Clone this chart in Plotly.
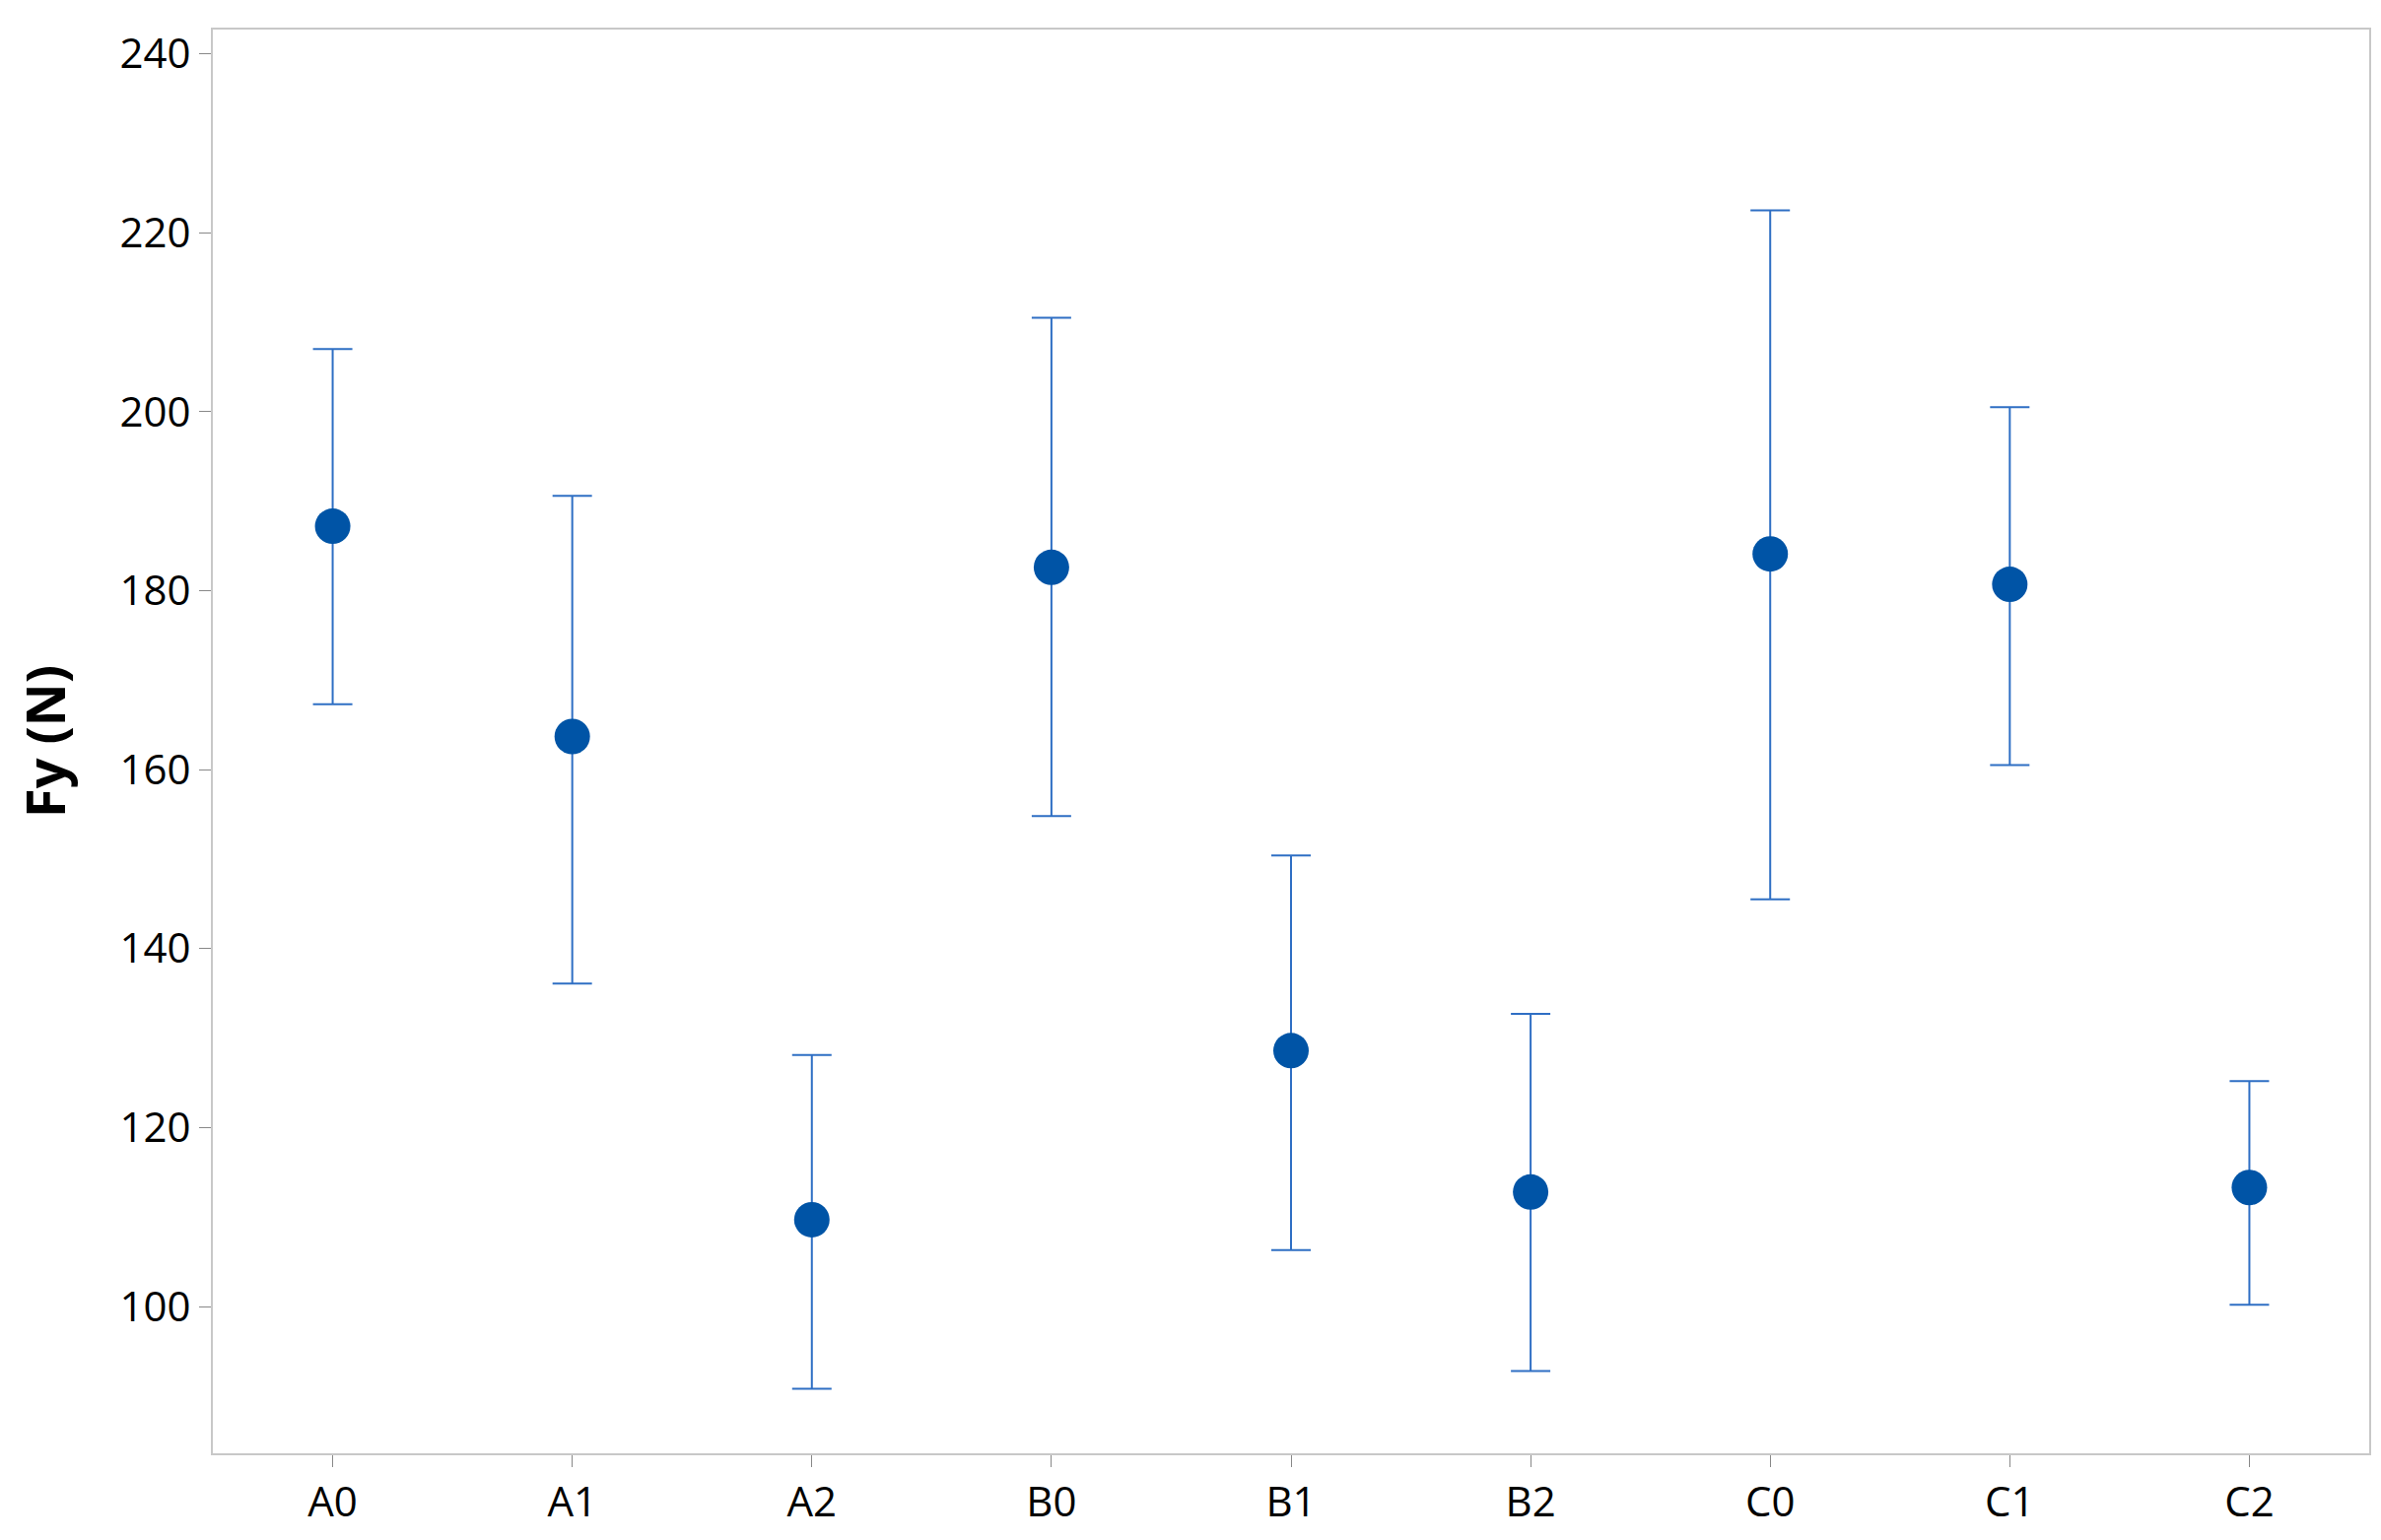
import plotly.graph_objects as go

categories = ["A0","A1","A2","B0","B1","B2","C0","C1","C2"]
means = [187.2,163.7,109.7,182.6,128.6,112.8,184.1,180.7,113.3]
upper = [207.0,190.6,128.1,210.5,150.4,132.7,222.5,200.5,125.2]
lower = [167.3,136.1,90.8,154.8,106.3,92.8,145.5,160.5,100.2]

err_plus = [u-m for u,m in zip(upper,means)]
err_minus = [m-l for m,l in zip(means,lower)]

fig = go.Figure(go.Scatter(
    x=categories, y=means, mode="markers",
    marker=dict(size=36, color="#0054A6"),
    error_y=dict(type="data", symmetric=False, array=err_plus, arrayminus=err_minus,
                 color="#2F6FC4", thickness=2, width=20),
))
fig.update_layout(
    width=2416, height=1563, plot_bgcolor="white", paper_bgcolor="white",
    margin=dict(l=208, r=20, t=22, b=96),
    font=dict(family="Open Sans", size=40, color="black"),
    showlegend=False,
)
fig.update_xaxes(showline=True, mirror=True, linecolor="#C8C8C8", linewidth=2,
                 ticks="outside", ticklen=12, tickcolor="#888", showgrid=False,
                 range=[-0.5, 8.5], tickfont=dict(size=42))
fig.update_yaxes(showline=True, mirror=True, linecolor="#C8C8C8", linewidth=2,
                 ticks="outside", ticklen=12, tickcolor="#888", showgrid=False,
                 range=[83.6, 242.7], tickvals=[100,120,140,160,180,200,220,240],
                 tickfont=dict(size=42),
                 title=dict(text="<b>Fy (N)</b>", font=dict(size=54), standoff=40))
fig.write_html("out.html")
